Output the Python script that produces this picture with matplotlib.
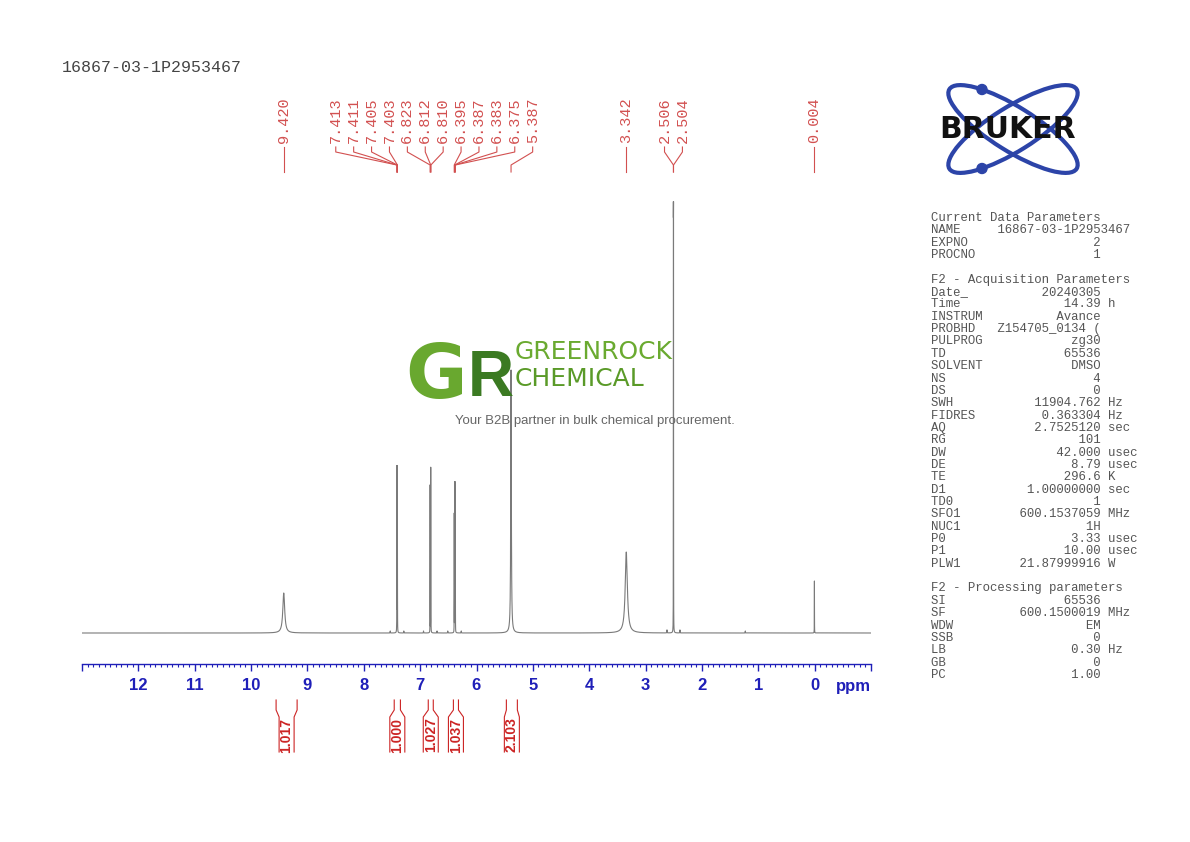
import numpy as np
import matplotlib
matplotlib.use("Agg")
import matplotlib.pyplot as plt
from matplotlib.patches import Ellipse, Circle
from matplotlib.ticker import MultipleLocator

# ---------------- data ----------------
sample_name = "16867-03-1P2953467"

peak_labels = [9.420, 7.413, 7.411, 7.405, 7.403, 6.823, 6.812, 6.810,
               6.395, 6.387, 6.383, 6.375, 5.387, 3.342, 2.506, 2.504, 0.004]

line_ppm = [9.420, 7.413, 7.411, 7.405, 7.403, 6.823, 6.812, 6.810,
            6.395, 6.387, 6.383, 6.375, 5.387, 3.342, 2.506, 2.504, 0.004,
            7.53, 7.29, 6.94, 6.70, 6.51, 6.27, 2.62, 2.39, 1.23]
line_height = [40, 146, 146, 146, 146, 147, 147, 147,
               118, 145, 145, 118, 263, 81, 384, 384, 52,
               2, 2, 2, 2, 2, 2, 3, 3, 2]
line_fwhm = [0.040, 0.0015, 0.0015, 0.0015, 0.0015, 0.0015, 0.0015, 0.0015,
             0.0015, 0.0015, 0.0015, 0.0015, 0.012, 0.045, 0.0015, 0.0015, 0.002,
             0.004, 0.004, 0.004, 0.004, 0.004, 0.004, 0.004, 0.004, 0.004]

integral_start = [9.556, 7.46, 6.856, 6.41, 5.47]
integral_end = [9.183, 7.35, 6.767, 6.32, 5.275]
integral_value = [1.017, 1.000, 1.027, 1.037, 2.103]

tick_values = [12, 11, 10, 9, 8, 7, 6, 5, 4, 3, 2, 1, 0]

current_names = ["NAME", "EXPNO", "PROCNO"]
current_values = ["16867-03-1P2953467", "2", "1"]
current_units = ["", "", ""]

acq_names = ["Date_", "Time", "INSTRUM", "PROBHD", "PULPROG", "TD", "SOLVENT",
             "NS", "DS", "SWH", "FIDRES", "AQ", "RG", "DW", "DE", "TE", "D1",
             "TD0", "SFO1", "NUC1", "P0", "P1", "PLW1"]
acq_values = ["20240305", "14.39", "Avance", "Z154705_0134 (", "zg30", "65536",
              "DMSO", "4", "0", "11904.762", "0.363304", "2.7525120", "101",
              "42.000", "8.79", "296.6", "1.00000000", "1", "600.1537059", "1H",
              "3.33", "10.00", "21.87999916"]
acq_units = ["", "h", "", "", "", "", "", "", "", "Hz", "Hz", "sec", "", "usec",
             "usec", "K", "sec", "", "MHz", "", "usec", "usec", "W"]

proc_names = ["SI", "SF", "WDW", "SSB", "LB", "GB", "PC"]
proc_values = ["65536", "600.1500019", "EM", "0", "0.30", "0", "1.00"]
proc_units = ["", "MHz", "", "", "Hz", "", ""]

# ---------------- layout helpers ----------------
W, H = 1190, 842
def rect(x0, y0, x1, y1):
    return [x0 / W, 1 - y1 / H, (x1 - x0) / W, (y1 - y0) / H]
def fy(py):
    return 1 - py / H

X_LEFT, X_RIGHT = 13.0, -1.0
AX_X0, AX_X1 = 82, 871
PX_PER_PPM = (AX_X1 - AX_X0) / (X_LEFT - X_RIGHT)

BLUE = "#1f1fb8"
RED_LAB = "#d25050"
RED_INT = "#cc2424"
MONO = "Liberation Mono"

fig = plt.figure(figsize=(W / 100, H / 100), dpi=100)
fig.patch.set_facecolor("white")

# ---------------- spectrum ----------------
ax = fig.add_axes(rect(AX_X0, 180, AX_X1, 664))
x = np.union1d(np.arange(X_RIGHT, X_LEFT + 1e-9, 0.0002), np.array(line_ppm))
y = np.zeros_like(x)
for p, h, w in zip(line_ppm, line_height, line_fwhm):
    y += h / (1 + ((x - p) / (w / 2)) ** 2)
ax.plot(x, y, color="#7a7a7a", lw=0.8, zorder=2)
ax.set_xlim(X_LEFT, X_RIGHT)
ax.set_ylim(-31, 453)
for s in ("top", "left", "right"):
    ax.spines[s].set_visible(False)
ax.spines["bottom"].set_color(BLUE)
ax.spines["bottom"].set_linewidth(1.0)
ax.set_yticks([])
major = [X_LEFT] + tick_values + [X_RIGHT]
labels = [""] + [str(v) for v in tick_values] + [""]
ax.set_xticks(major, labels=labels, fontweight="bold", fontsize=12,
              family="Liberation Sans")
ax.xaxis.set_minor_locator(MultipleLocator(0.1))
ax.tick_params(axis="x", which="major", direction="out", length=5, width=1,
               color=BLUE, labelcolor=BLUE, pad=5)
ax.tick_params(axis="x", which="minor", direction="out", length=2.5, width=0.8,
               color=BLUE)
ax.patch.set_alpha(0)
fig.text(853 / W, fy(686), "ppm", color=BLUE, fontsize=12, fontweight="bold",
         family="Liberation Sans", ha="center", va="center")

# ---------------- peak labels ----------------
lab = fig.add_axes(rect(AX_X0, 85, AX_X1, 180))
lab.set_xlim(X_LEFT, X_RIGHT)
lab.set_ylim(180, 85)
lab.axis("off")

spacing = 17.9 / PX_PER_PPM
groups = [[p] for p in sorted(peak_labels, reverse=True)]
changed = True
while changed:
    changed = False
    for i in range(len(groups) - 1):
        a, b = groups[i], groups[i + 1]
        lo_a = np.mean(a) - (len(a) - 1) / 2 * spacing
        hi_b = np.mean(b) + (len(b) - 1) / 2 * spacing
        if lo_a - hi_b < spacing:
            groups[i] = a + b
            del groups[i + 1]
            changed = True
            break
for g in groups:
    c = np.mean(g)
    n = len(g)
    for k, p in enumerate(g):
        lx = c + ((n - 1) / 2 - k) * spacing
        lab.plot([lx, lx, p, p], [147, 152, 165, 172], color=RED_LAB, lw=0.8)
        lab.text(lx, 143, f"{p:.3f}", rotation=90, ha="center", va="bottom",
                 family=MONO, fontsize=11, color=RED_LAB)

# ---------------- integrals ----------------
ia = fig.add_axes(rect(AX_X0, 692, AX_X1, 760))
ia.set_xlim(X_LEFT, X_RIGHT)
ia.set_ylim(760, 692)
ia.axis("off")
hb = 7.5 / PX_PER_PPM
for xa, xb, v in zip(integral_start, integral_end, integral_value):
    xc = (xa + xb) / 2
    ia.plot([xa, xa, xc + hb, xc + hb], [700, 710, 717, 752], color=RED_INT, lw=0.8)
    ia.plot([xb, xb, xc - hb, xc - hb], [700, 710, 717, 752], color=RED_INT, lw=0.8)
    ia.text(xc, 735, f"{v:.3f}", rotation=90, ha="center", va="center",
            fontsize=10, fontweight="bold", family="Liberation Sans", color=RED_INT)

# ---------------- title ----------------
fig.text(62 / W, fy(68), sample_name, family=MONO, fontsize=12, color="#444444",
         va="center", ha="left")

# ---------------- parameter panel ----------------
def fmt(n, v, u):
    s = f"{n:<9}{v}" if len(v) > 15 else f"{n:<8}{v:>15}"
    if u:
        s += " " + u
    return s

lines = ["Current Data Parameters"]
lines += [fmt(n, v, u) for n, v, u in zip(current_names, current_values, current_units)]
lines += ["", "F2 - Acquisition Parameters"]
lines += [fmt(n, v, u) for n, v, u in zip(acq_names, acq_values, acq_units)]
lines += ["", "F2 - Processing parameters"]
lines += [fmt(n, v, u) for n, v, u in zip(proc_names, proc_values, proc_units)]
for i, s in enumerate(lines):
    if s:
        fig.text(931 / W, fy(218 + i * 12.35), s, family=MONO, fontsize=8.9,
                 color="#555555", ha="left", va="center")

# ---------------- Bruker logo ----------------
la = fig.add_axes(rect(915, 80, 1100, 180))
la.set_xlim(915, 1100)
la.set_ylim(180, 80)
la.axis("off")
for ang in (32, -32):
    la.add_patch(Ellipse((1013, 129), 150, 44, angle=ang, fill=False,
                         ec="#2c44a8", lw=3))
for cy in (89.5, 168.5):
    la.add_patch(Circle((982, cy), 5, color="#2c44a8"))
la.text(1008, 129, "BRUKER", ha="center", va="center", fontsize=21.5,
        fontweight="bold", family="DejaVu Sans", color="#111111", zorder=5)

# ---------------- watermark ----------------
fig.text(405 / W, fy(398), "G", fontsize=54, fontweight="bold", color="#69a82f",
         family="DejaVu Sans", ha="left", va="baseline")
fig.text(468 / W, fy(396), "R", fontsize=46, fontweight="bold", color="#3b7a22",
         family="Liberation Sans", ha="left", va="baseline")
fig.text(515 / W, fy(359), "GREENROCK", fontsize=18, color="#6aaa30",
         family="DejaVu Sans", ha="left", va="baseline")
fig.text(515 / W, fy(386), "CHEMICAL", fontsize=18, color="#5a9a28",
         family="DejaVu Sans", ha="left", va="baseline")
fig.text(595 / W, fy(421), "Your B2B partner in bulk chemical procurement.",
         fontsize=9.5, color="#666666", family="Liberation Sans",
         ha="center", va="center")

fig.savefig("out.png", dpi=100, facecolor="white")
